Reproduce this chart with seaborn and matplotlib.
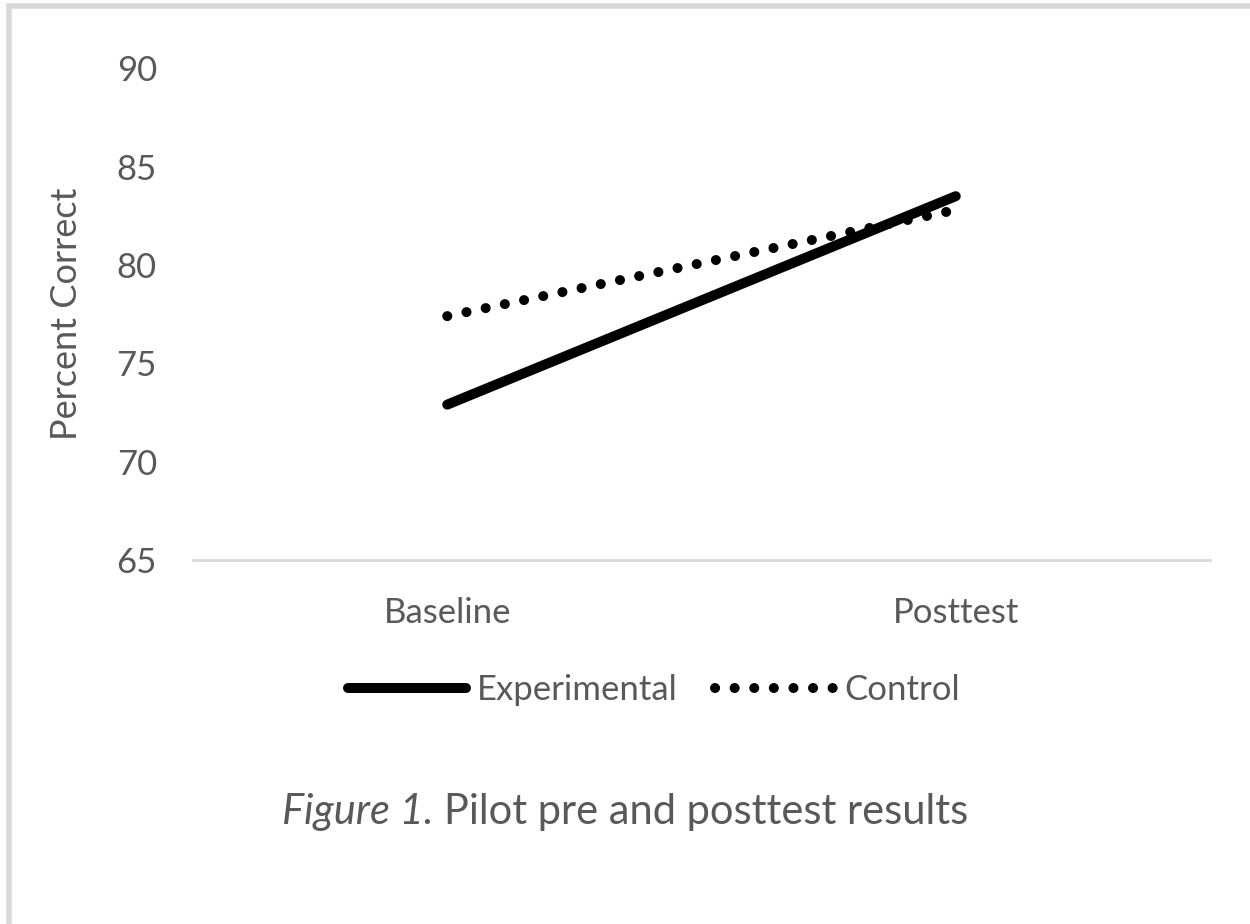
import matplotlib
matplotlib.use("Agg")
import matplotlib.pyplot as plt
import seaborn as sns
import pandas as pd
from matplotlib.patches import Rectangle

# data
phases = ["Baseline", "Posttest"]
experimental = [72.9, 83.5]
control = [77.4, 82.8]
yticks = [65, 70, 75, 80, 85, 90]

df = pd.DataFrame({
    "Phase": phases * 2,
    "Score": experimental + control,
    "Group": ["Experimental"] * 2 + ["Control"] * 2,
})

sns.set_theme(style="white")
plt.rcParams["font.family"] = ["Lato", "DejaVu Sans"]
plt.rcParams["lines.dash_capstyle"] = "round"
plt.rcParams["lines.solid_capstyle"] = "round"

grey = "#595959"
dots = (0.01, 1.95)
fig = plt.figure(figsize=(12.5, 9.24), dpi=100)
ax = fig.add_axes([0.1544, 0.394, 0.8136, 0.532])

sns.lineplot(data=df, x="Phase", y="Score", hue="Group", style="Group",
             palette={"Experimental": "black", "Control": "black"},
             dashes={"Experimental": "", "Control": dots},
             linewidth=7.2, ax=ax, legend=False)

ax.set_xlim(-0.5, 1.5)
ax.set_ylim(65, 90)
ax.set_yticks(yticks)
ax.set_xlabel("")
ax.set_ylabel("Percent Correct", fontsize=26, color=grey, labelpad=24)
ax.tick_params(axis="both", labelsize=25, colors=grey, length=0)
ax.tick_params(axis="x", pad=27)
ax.tick_params(axis="y", pad=26)
for side in ["top", "right", "left"]:
    ax.spines[side].set_visible(False)
ax.spines["bottom"].set_color("#d9d9d9")
ax.spines["bottom"].set_linewidth(2)

handles = [plt.Line2D([], [], color="black", lw=7.2),
           plt.Line2D([], [], color="black", lw=7.2, dashes=dots)]
fig.legend(handles, ["Experimental", "Control"], loc="center",
           bbox_to_anchor=(0.523, 0.253), ncol=2, frameon=False,
           fontsize=25, labelcolor=grey, handlelength=3.4,
           handletextpad=0.3, columnspacing=1.1)

# caption: italic lead-in followed by plain text, centred as a pair
fig.canvas.draw()
t1 = fig.text(0, 0.121, "Figure 1.", fontsize=30, style="italic",
              color=grey, ha="left", va="center")
t2 = fig.text(0, 0.121, "Pilot pre and posttest results", fontsize=30,
              color=grey, ha="left", va="center")
r = fig.canvas.get_renderer()
w1 = t1.get_window_extent(r).width
w2 = t2.get_window_extent(r).width
gap = 10
start = 625 - (w1 + gap + w2) / 2
t1.set_x(start / fig.bbox.width)
t2.set_x((start + w1 + gap) / fig.bbox.width)

# thin grey frame around the chart area
fig.patches.append(Rectangle((0.007, -0.1), 1.2, 1.094, transform=fig.transFigure,
                             fill=False, edgecolor="#d9d9d9", lw=4))

fig.savefig("out.png", dpi=100, facecolor="white")
